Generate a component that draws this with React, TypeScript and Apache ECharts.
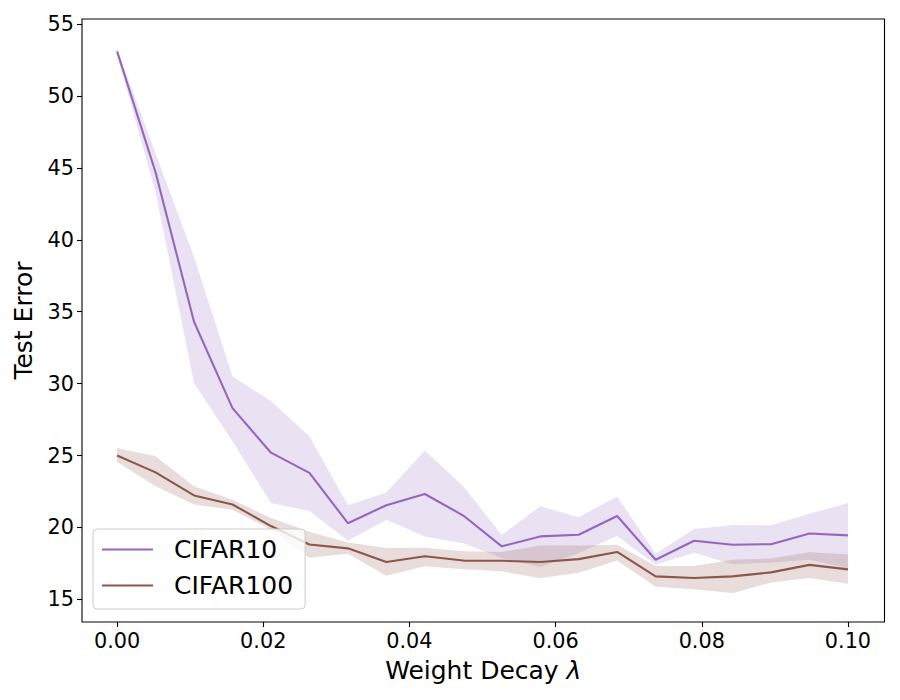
import React, { useEffect, useRef } from "react";
import * as echarts from "echarts";

const weightDecay = [
  0, 0.005263, 0.010526, 0.015789, 0.021053, 0.026316, 0.031579, 0.036842, 0.042105, 0.047368,
  0.052632, 0.057895, 0.063158, 0.068421, 0.073684, 0.078947, 0.084211, 0.089474, 0.094737, 0.1,
];

const cifar10Mean = [53.1, 44.7, 34.3, 28.3, 25.2, 23.8, 20.3, 21.55, 22.33, 20.83, 18.69, 19.38, 19.5, 20.8, 17.76, 19.08, 18.8, 18.84, 19.58, 19.45];
const cifar10Upper = [53.3, 46.0, 38.8, 30.5, 28.8, 26.35, 21.55, 22.44, 25.36, 22.86, 19.48, 21.47, 20.72, 22.16, 18.18, 19.9, 20.18, 20.15, 20.95, 21.7];
const cifar10Lower = [52.9, 43.3, 30.05, 26.0, 21.7, 21.15, 19.07, 20.54, 19.38, 18.9, 17.88, 17.25, 18.22, 19.4, 17.41, 18.24, 17.45, 17.57, 17.76, 17.18];

const cifar100Mean = [25.01, 23.83, 22.23, 21.6, 20.1, 18.82, 18.55, 17.6, 18.0, 17.7, 17.69, 17.6, 17.8, 18.3, 16.6, 16.49, 16.6, 16.88, 17.4, 17.09];
const cifar100Upper = [25.53, 24.95, 22.86, 21.93, 20.66, 19.7, 18.96, 18.57, 18.6, 18.34, 18.3, 18.74, 18.74, 18.8, 17.32, 17.32, 17.76, 17.85, 18.28, 18.13];
const cifar100Lower = [24.55, 22.86, 21.59, 21.24, 19.85, 17.9, 18.18, 16.65, 17.3, 17.1, 16.95, 16.47, 16.86, 17.7, 15.88, 15.7, 15.44, 16.18, 16.49, 16.09];

const xTicks = [0, 0.02, 0.04, 0.06, 0.08, 0.1];
const yTicks = [15, 20, 25, 30, 35, 40, 45, 50, 55];

const PURPLE = "#9467bd";
const BROWN = "#8c564b";
const FONT = "DejaVu Sans";

const pairs = (ys: number[]) => weightDecay.map((x, i) => [x, ys[i]]);
const bandRows = (lo: number[], hi: number[]) => weightDecay.map((x, i) => [x, lo[i], hi[i]]);

function bandSeries(name: string, lo: number[], hi: number[], color: string) {
  return {
    name,
    type: "custom",
    silent: true,
    clip: true,
    z: 1,
    data: bandRows(lo, hi),
    encode: { x: 0, y: [1, 2] },
    renderItem: (params: any, api: any) => {
      if (params.dataIndex !== 0) return null;
      const top = weightDecay.map((x, i) => api.coord([x, hi[i]]));
      const bottom = weightDecay.map((x, i) => api.coord([x, lo[i]])).reverse();
      return {
        type: "polygon",
        shape: { points: top.concat(bottom) },
        style: { fill: color, opacity: 0.2, stroke: "none" },
      };
    },
  };
}

export default function App() {
  const ref = useRef<HTMLDivElement>(null);
  useEffect(() => {
    if (!ref.current) return;
    const chart = echarts.init(ref.current, undefined, { renderer: "svg" });
    chart.setOption({
      animation: false,
      textStyle: { fontFamily: FONT },
      grid: {
        left: 82,
        right: 15.5,
        top: 19,
        bottom: 78,
        show: true,
        borderColor: "#000",
        borderWidth: 1.1,
        backgroundColor: "transparent",
      },
      legend: {
        data: ["CIFAR10", "CIFAR100"],
        orient: "vertical",
        left: 93,
        top: 529,
        icon: "rect",
        itemWidth: 51,
        itemHeight: 2,
        itemGap: 11,
        padding: [8, 12, 11, 9],
        backgroundColor: "rgba(255,255,255,0.8)",
        borderColor: "#cccccc",
        borderWidth: 1,
        borderRadius: 4,
        z: 10,
        textStyle: {
          fontFamily: FONT,
          fontSize: 25,
          color: "#000",
          lineHeight: 25,
          padding: [0, 0, 0, 16],
        },
      },
      xAxis: {
        type: "value",
        min: -0.0048,
        max: 0.105,
        name: "Weight Decay {i|λ}",
        nameLocation: "middle",
        nameGap: 36,
        nameTextStyle: {
          fontFamily: FONT,
          fontSize: 25,
          color: "#000",
          rich: { i: { fontFamily: FONT, fontSize: 25, fontStyle: "italic", color: "#000" } },
        },
        axisLine: { show: false, onZero: false },
        axisTick: { show: true, customValues: xTicks, length: 5, inside: false, lineStyle: { color: "#000", width: 1.1 } },
        axisLabel: {
          customValues: xTicks,
          formatter: (v: number) => v.toFixed(2),
          fontFamily: FONT,
          fontSize: 20.8,
          color: "#000",
          margin: 8,
        },
        splitLine: { show: false },
      },
      yAxis: {
        type: "value",
        min: 13.43,
        max: 55.35,
        name: "Test Error",
        nameLocation: "middle",
        nameGap: 46,
        nameTextStyle: { fontFamily: FONT, fontSize: 25, color: "#000" },
        axisLine: { show: false, onZero: false },
        axisTick: { show: true, customValues: yTicks, length: 5, inside: false, lineStyle: { color: "#000", width: 1.1 } },
        axisLabel: {
          customValues: yTicks,
          formatter: (v: number) => String(Math.round(v)),
          fontFamily: FONT,
          fontSize: 20.8,
          color: "#000",
          margin: 8,
        },
        splitLine: { show: false },
      },
      series: [
        bandSeries("CIFAR10 band", cifar10Lower, cifar10Upper, PURPLE),
        bandSeries("CIFAR100 band", cifar100Lower, cifar100Upper, BROWN),
        {
          name: "CIFAR10",
          type: "line",
          data: pairs(cifar10Mean),
          symbol: "none",
          itemStyle: { color: PURPLE },
          lineStyle: { color: PURPLE, width: 2.1 },
          z: 3,
        },
        {
          name: "CIFAR100",
          type: "line",
          data: pairs(cifar100Mean),
          symbol: "none",
          itemStyle: { color: BROWN },
          lineStyle: { color: BROWN, width: 2.1 },
          z: 3,
        },
      ],
    });
    return () => chart.dispose();
  }, []);
  return <div ref={ref} style={{ width: 900, height: 700, position: "absolute", left: 0, top: 0 }} />;
}
